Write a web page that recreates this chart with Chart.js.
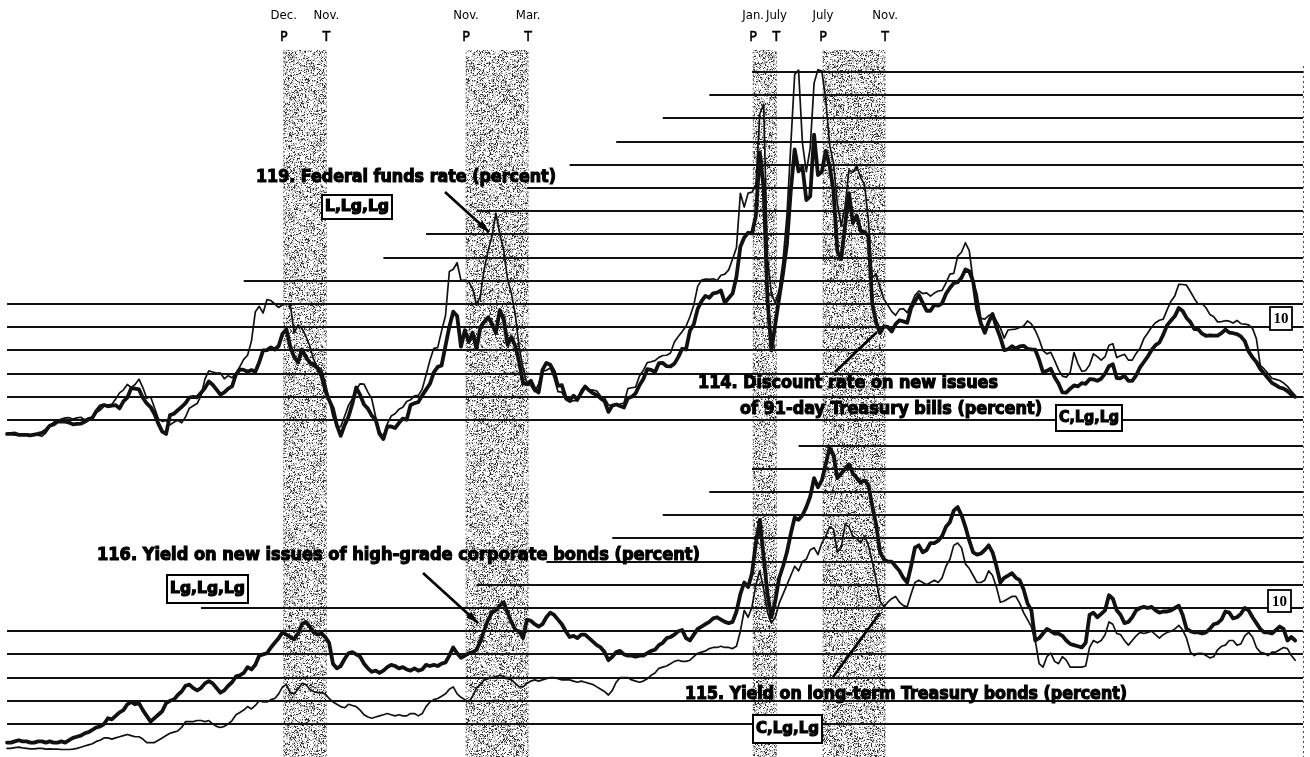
<!DOCTYPE html>
<html>
<head>
<meta charset="utf-8">
<script src="https://cdn.jsdelivr.net/npm/chart.js@4.4.1/dist/chart.umd.min.js"></script>
<style>
  html, body { margin: 0; padding: 0; background: #fff; }
  #wrap { width: 1310px; height: 757px; }
</style>
</head>
<body>
<div id="wrap"><canvas id="rates" width="1310" height="757"></canvas></div>
<script>

// Monthly values, Jan 1964 - Sep 1991 (percent)
const startYear = 1964;

// 119. Federal funds rate
const fedFunds = [
    3.4, 3.4, 3.35, 3.4, 3.4, 3.4, 3.35, 3.4, 3.35, 3.3, 3.45, 3.75,
    3.9, 3.98, 4.04, 4.09, 4.1, 4.04, 4.09, 4.12, 4.01, 4.08, 4.1, 4.32,
    4.42, 4.6, 4.65, 4.67, 4.9, 5.17, 5.3, 5.53, 5.4, 5.53, 5.76, 5.4,
    4.94, 5.0, 4.53, 4.05, 3.94, 3.98, 3.79, 3.9, 3.99, 3.88, 4.13, 4.51,
    4.61, 4.71, 5.05, 5.76, 6.12, 6.07, 6.02, 6.03, 5.78, 5.91, 5.82, 6.02,
    6.3, 6.61, 6.79, 7.41, 8.67, 8.9, 8.61, 9.19, 9.15, 9.0, 8.85, 8.97,
    8.98, 8.98, 7.76, 8.1, 7.95, 7.61, 7.21, 6.61, 6.29, 6.2, 5.6, 4.9,
    4.14, 3.72, 3.71, 4.16, 4.63, 4.91, 5.31, 5.56, 5.55, 5.2, 4.91, 4.14,
    3.5, 3.29, 3.83, 4.17, 4.27, 4.46, 4.55, 4.8, 4.87, 5.04, 5.06, 5.33,
    5.94, 6.58, 7.09, 7.12, 7.84, 8.49, 10.4, 10.5, 10.78, 10.01, 10.03, 9.95,
    9.65, 8.97, 9.35, 10.51, 11.31, 11.93, 12.92, 12.01, 11.34, 10.06, 9.45, 8.53,
    7.13, 6.24, 5.54, 5.49, 5.22, 5.55, 6.1, 6.14, 6.24, 5.82, 5.22, 5.2,
    4.87, 4.77, 4.84, 4.82, 5.29, 5.48, 5.31, 5.29, 5.25, 5.02, 4.95, 4.65,
    4.61, 4.68, 4.69, 4.73, 5.35, 5.39, 5.42, 5.9, 6.14, 6.47, 6.51, 6.56,
    6.7, 6.78, 6.79, 6.89, 7.36, 7.6, 7.81, 8.04, 8.45, 8.96, 9.76, 10.03,
    10.07, 10.06, 10.09, 10.01, 10.24, 10.29, 10.47, 10.94, 11.43, 13.77, 13.18, 13.78,
    13.82, 14.13, 17.19, 17.61, 10.98, 9.47, 9.03, 9.61, 10.87, 12.81, 15.85, 18.9,
    19.08, 15.93, 14.7, 15.72, 18.52, 19.1, 19.04, 17.82, 15.87, 15.08, 13.31, 12.37,
    13.22, 14.78, 14.68, 14.94, 14.45, 14.15, 12.59, 10.12, 10.31, 9.71, 9.2, 8.95,
    8.68, 8.51, 8.77, 8.8, 8.63, 8.98, 9.37, 9.56, 9.45, 9.48, 9.34, 9.47,
    9.56, 9.59, 9.91, 10.29, 10.32, 11.06, 11.23, 11.64, 11.3, 9.99, 9.43, 8.38,
    8.35, 8.5, 8.58, 8.27, 7.97, 7.53, 7.88, 7.9, 7.92, 7.99, 8.05, 8.27,
    8.14, 7.86, 7.48, 6.99, 6.85, 6.92, 6.56, 6.17, 5.89, 5.85, 6.04, 6.91,
    6.43, 6.1, 6.13, 6.37, 6.85, 6.73, 6.58, 6.73, 7.22, 7.29, 6.69, 6.77,
    6.83, 6.58, 6.58, 6.87, 7.09, 7.51, 7.75, 8.01, 8.19, 8.3, 8.35, 8.76,
    9.12, 9.36, 9.85, 9.84, 9.81, 9.53, 9.24, 8.99, 9.02, 8.84, 8.55, 8.45,
    8.23, 8.24, 8.28, 8.26, 8.18, 8.29, 8.15, 8.13, 8.1, 7.95, 7.5, 6.35,
    6.2, 6.0, 5.8, 5.75, 5.7, 5.6, 5.45, 5.25, 5.05
];

// 114. Discount rate on new issues of 91-day Treasury bills
const tBills = [
    3.4, 3.4, 3.42, 3.36, 3.36, 3.36, 3.34, 3.37, 3.4, 3.45, 3.55, 3.75,
    3.81, 3.93, 3.93, 3.93, 3.89, 3.81, 3.83, 3.84, 3.92, 4.03, 4.09, 4.38,
    4.59, 4.65, 4.59, 4.62, 4.64, 4.5, 4.8, 4.96, 5.37, 5.35, 5.32, 4.96,
    4.72, 4.56, 4.26, 3.84, 3.5, 3.4, 4.21, 4.27, 4.42, 4.56, 4.73, 4.97,
    5.0, 4.98, 5.17, 5.38, 5.66, 5.52, 5.31, 5.09, 5.19, 5.35, 5.45, 5.96,
    6.18, 6.16, 6.08, 6.15, 6.08, 6.49, 7.0, 7.01, 7.13, 7.04, 7.19, 7.72,
    7.91, 7.16, 6.71, 6.48, 7.04, 6.74, 6.47, 6.41, 6.24, 5.93, 5.29, 4.86,
    4.49, 3.77, 3.32, 3.78, 4.14, 4.7, 5.4, 5.08, 4.67, 4.49, 4.19, 4.02,
    3.4, 3.18, 3.72, 3.72, 3.65, 3.87, 4.06, 4.01, 4.65, 4.72, 4.77, 5.06,
    5.31, 5.56, 6.05, 6.29, 6.35, 7.19, 8.02, 8.67, 8.48, 7.16, 7.87, 7.36,
    7.76, 7.06, 7.99, 8.23, 8.43, 8.14, 7.75, 8.74, 8.36, 7.24, 7.58, 7.18,
    6.49, 5.58, 5.54, 5.69, 5.32, 5.19, 6.16, 6.46, 6.38, 6.08, 5.47, 5.5,
    4.96, 4.85, 5.05, 4.88, 5.18, 5.44, 5.28, 5.15, 5.08, 4.93, 4.81, 4.35,
    4.62, 4.67, 4.6, 4.54, 4.94, 5.0, 5.15, 5.5, 5.77, 6.19, 6.16, 6.06,
    6.45, 6.46, 6.32, 6.31, 6.43, 6.71, 7.07, 7.04, 7.84, 8.13, 8.79, 9.12,
    9.35, 9.27, 9.46, 9.49, 9.58, 9.05, 9.26, 9.45, 10.18, 11.47, 11.87, 12.07,
    12.04, 12.81, 15.53, 14.0, 9.15, 7.0, 8.13, 9.26, 10.32, 11.58, 13.89, 15.66,
    14.72, 14.91, 13.48, 13.64, 16.3, 14.56, 14.7, 15.61, 14.95, 13.87, 11.27, 10.93,
    12.41, 13.78, 12.49, 12.82, 12.15, 12.11, 11.91, 9.01, 8.2, 7.75, 8.04, 8.01,
    7.81, 8.13, 8.3, 8.25, 8.19, 8.82, 9.12, 9.39, 9.05, 8.71, 8.71, 8.96,
    8.93, 9.03, 9.44, 9.69, 9.9, 9.94, 10.13, 10.49, 10.41, 9.97, 8.79, 8.16,
    7.76, 8.22, 8.57, 8.0, 7.56, 7.01, 7.05, 7.18, 7.08, 7.17, 7.2, 7.07,
    7.04, 7.03, 6.59, 6.06, 6.12, 6.21, 5.84, 5.57, 5.19, 5.18, 5.35, 5.49,
    5.45, 5.59, 5.56, 5.76, 5.75, 5.69, 5.78, 6.0, 6.32, 6.4, 5.81, 5.8,
    5.9, 5.69, 5.69, 5.92, 6.27, 6.5, 6.73, 7.02, 7.23, 7.34, 7.68, 8.09,
    8.29, 8.48, 8.83, 8.7, 8.4, 8.22, 7.92, 7.91, 7.72, 7.63, 7.65, 7.64,
    7.64, 7.74, 7.9, 7.77, 7.74, 7.7, 7.6, 7.4, 6.95, 6.7, 6.5, 6.2,
    6.0, 5.8, 5.6, 5.5, 5.4, 5.35, 5.25, 5.1, 5.0
];

// 116. Yield on new issues of high-grade corporate bonds
const corpBonds = [
    4.2, 4.2, 4.25, 4.3, 4.25, 4.25, 4.2, 4.2, 4.25, 4.25, 4.2, 4.25,
    4.2, 4.2, 4.25, 4.2, 4.3, 4.4, 4.45, 4.5, 4.6, 4.65, 4.75, 4.85,
    4.9, 5.0, 5.25, 5.2, 5.35, 5.5, 5.6, 5.85, 5.95, 5.85, 5.9, 5.6,
    5.35, 5.1, 5.25, 5.4, 5.55, 5.9, 6.0, 6.05, 6.25, 6.4, 6.65, 6.7,
    6.55, 6.45, 6.55, 6.75, 6.85, 6.75, 6.55, 6.35, 6.45, 6.65, 6.8, 7.05,
    7.1, 7.2, 7.45, 7.35, 7.55, 7.95, 8.0, 8.05, 8.3, 8.5, 8.7, 8.95,
    8.85, 8.75, 8.65, 8.9, 9.3, 9.4, 9.2, 8.95, 8.85, 8.9, 8.75, 8.5,
    7.6, 7.4, 7.5, 7.8, 8.05, 8.1, 8.0, 7.9, 7.6, 7.4, 7.25, 7.3,
    7.2, 7.3, 7.45, 7.55, 7.5, 7.4, 7.45, 7.35, 7.3, 7.4, 7.3, 7.35,
    7.55, 7.5, 7.55, 7.5, 7.6, 7.65, 7.95, 8.3, 8.05, 7.85, 7.95, 8.05,
    8.1, 8.2, 8.55, 9.05, 9.5, 9.8, 9.9, 10.1, 10.25, 9.8, 9.4, 9.05,
    9.0, 8.7, 9.5, 9.45, 9.3, 9.2, 9.3, 9.6, 9.8, 9.7, 9.5, 9.3,
    9.0, 8.75, 8.8, 8.7, 8.85, 8.85, 8.7, 8.55, 8.4, 8.3, 8.1, 7.75,
    7.9, 8.1, 8.15, 8.0, 7.95, 7.95, 7.9, 7.95, 7.95, 8.05, 8.15, 8.2,
    8.4, 8.5, 8.7, 8.75, 8.85, 9.0, 9.05, 8.7, 8.6, 8.85, 9.1, 9.2,
    9.3, 9.4, 9.55, 9.6, 9.5, 9.4, 9.35, 9.4, 9.85, 10.6, 11.1, 10.9,
    11.5, 12.8, 13.8, 12.2, 10.6, 9.6, 10.3, 11.3, 11.8, 12.4, 13.2, 13.9,
    13.8, 14.0, 14.35, 14.8, 15.6, 15.2, 15.5, 16.2, 16.9, 16.6, 15.6, 15.8,
    16.0, 16.2, 15.8, 15.6, 15.4, 15.5, 15.3, 14.4, 13.6, 12.4, 12.1, 12.0,
    12.0, 11.8, 11.6, 11.3, 11.1, 11.8, 12.6, 12.7, 12.4, 12.5, 12.8, 12.8,
    12.9, 13.1, 13.5, 13.7, 14.2, 14.35, 14.0, 13.5, 12.9, 12.4, 12.3, 12.35,
    12.5, 12.7, 12.4, 11.8, 11.1, 11.3, 11.4, 11.5, 11.3, 11.2, 10.8, 10.2,
    9.9, 8.6, 8.7, 8.9, 9.1, 9.0, 8.9, 8.9, 8.8, 8.6, 8.45, 8.4,
    8.35, 8.3, 8.5, 9.7, 9.8, 9.6, 9.75, 9.9, 10.55, 10.4, 9.9, 9.7,
    9.35, 9.4, 9.6, 9.9, 10.0, 10.05, 10.0, 10.05, 9.9, 9.8, 9.85, 9.85,
    9.9, 10.0, 10.1, 9.7, 9.1, 9.0, 8.95, 8.95, 8.9, 8.95, 9.1, 9.3,
    9.35, 9.5, 9.85, 9.8, 9.55, 9.6, 9.75, 10.0, 9.9, 9.6, 9.35, 9.1,
    8.95, 8.95, 8.9, 9.05, 9.2, 9.1, 8.6, 8.75, 8.6
];

// 115. Yield on long-term Treasury bonds
const treasBonds = [
    3.95, 3.95, 3.98, 4.0, 3.97, 3.95, 3.93, 3.93, 3.95, 3.95, 3.92, 3.93,
    3.92, 3.92, 3.9, 3.9, 3.9, 3.92, 3.95, 4.0, 4.05, 4.1, 4.15, 4.25,
    4.3, 4.4, 4.4, 4.35, 4.4, 4.45, 4.5, 4.55, 4.5, 4.45, 4.45, 4.35,
    4.2, 4.2, 4.2, 4.3, 4.4, 4.5, 4.6, 4.65, 4.7, 4.85, 5.1, 5.1,
    5.1, 5.15, 5.15, 5.1, 5.15, 5.0, 4.9, 4.85, 4.9, 5.0, 5.15, 5.4,
    5.5, 5.6, 5.75, 5.65, 5.8, 6.0, 5.95, 5.95, 6.05, 6.1, 6.3, 6.6,
    6.7, 6.35, 6.3, 6.5, 6.75, 6.7, 6.5, 6.4, 6.35, 6.35, 6.3, 6.1,
    5.95, 5.85, 5.75, 5.7, 5.85, 5.8, 5.75, 5.6, 5.4, 5.3, 5.25, 5.3,
    5.35, 5.4, 5.45, 5.4, 5.35, 5.4, 5.35, 5.35, 5.45, 5.45, 5.35, 5.45,
    5.75, 5.95, 6.05, 6.1, 6.2, 6.3, 6.5, 6.6, 6.3, 6.15, 6.05, 5.95,
    6.2, 6.55, 6.7, 6.9, 6.95, 7.0, 7.05, 7.1, 7.05, 6.95, 6.9, 6.75,
    6.6, 6.6, 6.75, 6.85, 6.9, 6.85, 6.9, 6.95, 7.0, 7.0, 6.95, 6.9,
    6.9, 6.9, 6.85, 6.8, 6.85, 6.8, 6.75, 6.7, 6.6, 6.5, 6.4, 6.25,
    6.45, 6.8, 7.0, 7.0, 7.0, 6.9, 6.85, 6.8, 6.85, 6.95, 7.1, 7.2,
    7.4, 7.45, 7.5, 7.6, 7.7, 7.75, 7.7, 7.7, 7.75, 7.9, 8.05, 8.1,
    8.15, 8.25, 8.3, 8.3, 8.35, 8.3, 8.3, 8.25, 8.35, 9.0, 9.9, 9.6,
    10.05, 11.0, 11.6, 10.8, 9.8, 9.35, 9.6, 10.2, 10.6, 11.0, 11.4, 11.8,
    11.6, 12.0, 12.1, 12.5, 12.6, 12.3, 12.8, 13.1, 13.5, 13.4, 12.4, 12.6,
    13.6, 13.5, 13.1, 13.0, 12.8, 13.1, 12.7, 12.0, 11.2, 10.3, 10.05, 10.25,
    10.4, 10.5, 10.25, 10.1, 10.05, 10.6, 11.1, 11.2, 11.1, 11.0, 11.1, 11.2,
    11.1, 11.3, 11.8, 12.1, 12.7, 12.8, 12.6, 11.9, 11.7, 11.4, 11.1, 11.1,
    11.2, 11.6, 11.4, 10.9, 10.25, 10.3, 10.4, 10.5, 10.5, 10.2, 9.8, 9.5,
    9.2, 8.6, 7.6, 7.45, 7.9, 8.05, 7.7, 7.6, 7.9, 7.75, 7.45, 7.45,
    7.45, 7.45, 7.5, 8.3, 8.6, 8.5, 8.6, 8.85, 9.4, 9.3, 8.9, 8.85,
    8.6, 8.4, 8.6, 8.8, 8.95, 8.9, 8.95, 9.0, 8.85, 8.7, 8.85, 8.95,
    9.0, 9.1, 9.25, 9.05, 8.7, 8.1, 7.95, 8.05, 8.05, 7.95, 7.85, 7.9,
    8.2, 8.35, 8.4, 8.6, 8.6, 8.4, 8.45, 8.8, 8.95, 8.75, 8.3, 8.1,
    8.05, 7.95, 8.1, 8.1, 8.2, 8.3, 8.25, 7.95, 7.75
];

// Business cycle peaks (P) and troughs (T)
const recessionPeaks = [[1969, 12], [1973, 11], [1980, 1], [1981, 7]];
const recessionTroughs = [[1970, 11], [1975, 3], [1980, 7], [1982, 11]];
const peakLabels = ['Dec.', 'Nov.', 'Jan.', 'July'];
const troughLabels = ['Nov.', 'Mar.', 'July', 'Nov.'];

// Horizontal rules (percent) and the month each one starts
const topRules = [19, 18, 17, 16, 15, 14, 13, 12, 11, 10, 9, 8, 7, 6, 5, 4];
const topRuleFrom = [[1980, 1], [1979, 2], [1978, 2], [1977, 2], [1976, 2], [1975, 3], [1974, 2], [1973, 1], [1972, 2], [1969, 2], [1964, 1], [1964, 1], [1964, 1], [1964, 1], [1964, 1], [1964, 1]];
const bottomRules = [17, 16, 15, 14, 13, 12, 11, 10, 9, 8, 7, 6, 5];
const bottomRuleFrom = [[1981, 1], [1980, 1], [1979, 2], [1978, 2], [1977, 1], [1975, 8], [1974, 2], [1968, 3], [1964, 1], [1964, 1], [1964, 1], [1964, 1], [1964, 1]];
const ruleEnd = [1991, 11];

// months counted from Jan 1980
const monthIndex = (y, m) => (y - 1980) * 12 + (m - 1);
const toPoints = (vals) => vals.map((v, i) => ({ x: monthIndex(startYear, 1) + i, y: v }));

// page geometry
const W = 1310, H = 757;
const jan1980X = 752, pxPerMonth = 3.88, pxPerPoint = 23.2;
const topRefY = 72, topRefVal = 19;
const botRefY = 608, botRefVal = 10;

const FONT = "'Liberation Sans Narrow', 'DejaVu Sans Condensed', 'Liberation Sans', sans-serif";

let seed = 12345;
const rnd = () => (seed = (seed * 16807) % 2147483647) / 2147483647;

function stipple(ctx) {
    const c = document.createElement('canvas');
    c.width = 160; c.height = 160;
    const g = c.getContext('2d');
    const img = g.createImageData(160, 160);
    for (let i = 0; i < 160 * 160; i++) {
        const r = rnd();
        let a = 0, v = 0;
        if (r < 0.15) { a = 235; v = 30; }
        else if (r < 0.42) { a = 150; v = 110; }
        img.data[i * 4] = v; img.data[i * 4 + 1] = v; img.data[i * 4 + 2] = v; img.data[i * 4 + 3] = a;
    }
    g.putImageData(img, 0, 0);
    return ctx.createPattern(c, 'repeat');
}

function heavyText(ctx, text, x, y, w, size) {
    ctx.save();
    ctx.font = `bold ${size}px ${FONT}`;
    const tw = ctx.measureText(text).width;
    ctx.translate(x, y);
    ctx.scale(w / tw, 1);
    ctx.textBaseline = 'middle';
    ctx.fillStyle = '#000';
    ctx.fillText(text, 0, 0);
    ctx.lineWidth = 1.1;
    ctx.strokeStyle = '#000';
    ctx.strokeText(text, 0, 0);
    ctx.restore();
}

function boxLabel(ctx, text, x, y, w, h, size) {
    ctx.save();
    ctx.lineWidth = 2;
    ctx.strokeStyle = '#000';
    ctx.fillStyle = '#fff';
    ctx.fillRect(x, y, w, h);
    ctx.strokeRect(x, y, w, h);
    ctx.restore();
    heavyText(ctx, text, x + 3, y + h / 2, w - 6, size);
}

function pointer(ctx, x0, y0, x1, y1, head) {
    ctx.save();
    ctx.strokeStyle = '#000';
    ctx.fillStyle = '#000';
    ctx.lineWidth = 2.6;
    ctx.beginPath();
    ctx.moveTo(x0, y0);
    ctx.lineTo(x1, y1);
    ctx.stroke();
    if (head) {
        const a = Math.atan2(y1 - y0, x1 - x0);
        ctx.beginPath();
        ctx.moveTo(x1, y1);
        ctx.lineTo(x1 - 13 * Math.cos(a - 0.3), y1 - 13 * Math.sin(a - 0.3));
        ctx.lineTo(x1 - 13 * Math.cos(a + 0.3), y1 - 13 * Math.sin(a + 0.3));
        ctx.closePath();
        ctx.fill();
    }
    ctx.restore();
}

// Background, recession shading and rules
const backdrop = {
    id: 'backdrop',
    beforeDraw(chart) {
        const ctx = chart.ctx;
        ctx.save();
        ctx.fillStyle = '#fff';
        ctx.fillRect(0, 0, W, H);
        ctx.restore();
    },
    beforeDatasetsDraw(chart) {
        const { ctx, scales: { x, yTop, yBot } } = chart;
        const pattern = stipple(ctx);

        ctx.save();
        recessionPeaks.forEach((p, i) => {
            const x0 = x.getPixelForValue(monthIndex(p[0], p[1]) + 0.3);
            const x1 = x.getPixelForValue(monthIndex(recessionTroughs[i][0], recessionTroughs[i][1]) + 0.3);
            ctx.fillStyle = pattern;
            ctx.fillRect(x0, 50, x1 - x0, H - 50);
            ctx.strokeStyle = '#666';
            ctx.lineWidth = 1;
            ctx.setLineDash([1.5, 3]);
            [x0, x1].forEach((xx) => {
                ctx.beginPath();
                ctx.moveTo(xx, 52);
                ctx.lineTo(xx, H);
                ctx.stroke();
            });
        });
        ctx.restore();

        const xEnd = x.getPixelForValue(monthIndex(ruleEnd[0], ruleEnd[1]));
        ctx.save();
        ctx.strokeStyle = '#111';
        ctx.lineWidth = 1.8;
        topRules.forEach((v, i) => {
            const y = Math.round(yTop.getPixelForValue(v));
            ctx.beginPath();
            ctx.moveTo(x.getPixelForValue(monthIndex(topRuleFrom[i][0], topRuleFrom[i][1])), y);
            ctx.lineTo(xEnd, y);
            ctx.stroke();
        });
        bottomRules.forEach((v, i) => {
            const y = Math.round(yBot.getPixelForValue(v));
            ctx.beginPath();
            ctx.moveTo(x.getPixelForValue(monthIndex(bottomRuleFrom[i][0], bottomRuleFrom[i][1])), y);
            ctx.lineTo(xEnd, y);
            ctx.stroke();
        });
        // right edge
        ctx.strokeStyle = '#444';
        ctx.lineWidth = 1;
        ctx.setLineDash([2, 3]);
        ctx.beginPath();
        ctx.moveTo(xEnd + 0.5, 66);
        ctx.lineTo(xEnd + 0.5, H);
        ctx.stroke();
        ctx.restore();
    }
};

// Titles, boxes and cycle dates
const notes = {
    id: 'notes',
    afterDatasetsDraw(chart) {
        const { ctx, scales: { x } } = chart;

        recessionPeaks.forEach((p, i) => {
            const xp = x.getPixelForValue(monthIndex(p[0], p[1]) + 0.3);
            const t = recessionTroughs[i];
            const xt = x.getPixelForValue(monthIndex(t[0], t[1]) + 0.3);
            [[xp, peakLabels[i], 'P'], [xt, troughLabels[i], 'T']].forEach(([xx, mon, letter]) => {
                ctx.save();
                ctx.font = `13px ${FONT}`;
                ctx.textAlign = 'center';
                ctx.textBaseline = 'middle';
                ctx.fillStyle = '#000';
                ctx.fillText(mon, xx, 16);
                ctx.font = `14px ${FONT}`;
                ctx.lineWidth = 0.5;
                ctx.fillText(letter, xx, 37);
                ctx.strokeText(letter, xx, 37);
                ctx.restore();
            });
        });

        // 119
        heavyText(ctx, '119. Federal funds rate (percent)', 256, 177, 300, 18);
        boxLabel(ctx, 'L,Lg,Lg', 322, 195, 70, 24, 15);
        pointer(ctx, 445, 192, 489, 232, true);

        // 114
        heavyText(ctx, '114. Discount rate on new issues', 698, 383, 300, 18);
        heavyText(ctx, 'of 91-day Treasury bills (percent)', 740, 409, 302, 18);
        boxLabel(ctx, 'C,Lg,Lg', 1056, 405, 66, 26, 15);
        pointer(ctx, 835, 372, 877, 332, false);

        // 116
        heavyText(ctx, '116. Yield on new issues of high-grade corporate bonds (percent)', 97, 555, 603, 18);
        boxLabel(ctx, 'Lg,Lg,Lg', 167, 575, 81, 28, 15);
        pointer(ctx, 423, 573, 478, 623, true);

        // 115
        heavyText(ctx, '115. Yield on long-term Treasury bonds (percent)', 685, 694, 442, 18);
        boxLabel(ctx, 'C,Lg,Lg', 753, 715, 69, 28, 15);
        pointer(ctx, 833, 677, 880, 613, false);

        // page references
        [[1270, 307, 22, 23], [1268, 590, 23, 22]].forEach(([bx, by, bw, bh]) => {
            ctx.save();
            ctx.lineWidth = 1.8;
            ctx.strokeStyle = '#000';
            ctx.fillStyle = '#fff';
            ctx.fillRect(bx, by, bw, bh);
            ctx.strokeRect(bx, by, bw, bh);
            ctx.font = "bold 15px 'Liberation Serif', serif";
            ctx.fillStyle = '#000';
            ctx.textAlign = 'center';
            ctx.textBaseline = 'middle';
            ctx.fillText('10', bx + bw / 2, by + bh / 2 + 1);
            ctx.restore();
        });
    }
};

const lineStyle = (width) => ({
    borderColor: '#111',
    borderWidth: width,
    pointRadius: 0,
    fill: false,
    tension: 0,
    borderJoinStyle: 'round',
    borderCapStyle: 'round'
});

const topMax = topRefVal + topRefY / pxPerPoint;
const botMax = botRefVal + botRefY / pxPerPoint;

new Chart(document.getElementById('rates'), {
    type: 'line',
    data: {
        datasets: [
            Object.assign({ label: '119. Federal funds rate', data: toPoints(fedFunds), yAxisID: 'yTop' }, lineStyle(1.7)),
            Object.assign({ label: '114. Treasury bills', data: toPoints(tBills), yAxisID: 'yTop' }, lineStyle(3.8)),
            Object.assign({ label: '116. Corporate bonds', data: toPoints(corpBonds), yAxisID: 'yBot' }, lineStyle(3.8)),
            Object.assign({ label: '115. Treasury bonds', data: toPoints(treasBonds), yAxisID: 'yBot' }, lineStyle(1.7))
        ]
    },
    options: {
        responsive: false,
        animation: false,
        devicePixelRatio: 1,
        layout: { padding: 0 },
        plugins: {
            legend: { display: false },
            tooltip: { enabled: false }
        },
        scales: {
            x: {
                type: 'linear',
                display: false,
                min: -jan1980X / pxPerMonth,
                max: (W - jan1980X) / pxPerMonth
            },
            yTop: {
                type: 'linear',
                display: false,
                max: topMax,
                min: topMax - H / pxPerPoint
            },
            yBot: {
                type: 'linear',
                display: false,
                max: botMax,
                min: botMax - H / pxPerPoint
            }
        }
    },
    plugins: [backdrop, notes]
});

</script>
</body>
</html>
